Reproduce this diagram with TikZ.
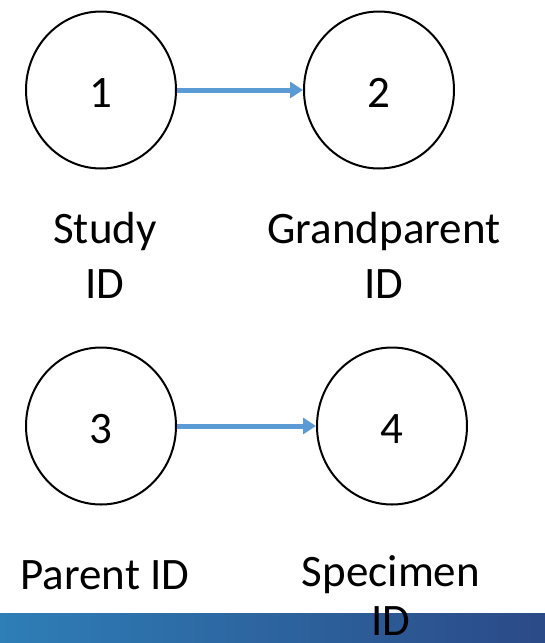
\documentclass[tikz,border=0pt]{standalone}
\usepackage{fontspec}
\setmainfont{Carlito}
\usetikzlibrary{positioning,arrows.meta,shapes.geometric}
\definecolor{linkblue}{RGB}{91,155,213}
\definecolor{barleft}{RGB}{46,126,183}
\definecolor{barright}{RGB}{43,74,135}
\tikzstyle{idnode}=[ellipse, draw=black, line width=2pt, minimum width=150pt, minimum height=157pt,
        inner sep=0pt, text height=35pt, text depth=0pt, font=\fontsize{45}{55}\selectfont]
\tikzstyle{idlabel}=[align=center, inner sep=0pt, font=\fontsize{45}{55}\selectfont]
\tikzstyle{link}=[draw=linkblue, line width=5pt, -{Triangle[length=13pt,width=16pt]}]
\begin{document}
\begin{tikzpicture}[x=1pt, y=-1pt, node distance=43pt]
\useasboundingbox (0,0) rectangle (545,643);
\clip (0,0) rectangle (545,643);
\shade[left color=barleft, right color=barright] (0,613) rectangle (545,643);

\node [idnode] (n1) at (101,90) {1};
\node [idnode] (n2) at (379,90) {2};
\node [idnode] (n3) at (101,426) {3};
\node [idnode] (n4) at (392,426) {4};

\node [idlabel, below=of n1, xshift=4pt] (l1) {Study\\ID};
\node [idlabel, below=of n2, xshift=5pt] (l2) {Grandparent\\ID};
\node [idlabel, below=55pt of n3, xshift=4pt] (l3) {Parent ID};
\node [idlabel, below=50pt of n4, xshift=-1pt,
       font=\fontsize{45}{49}\selectfont] (l4) {Specimen\\ID};

\draw [link] (n1) -- (n2);
\draw [link] (n3) -- (n4);
\end{tikzpicture}
\end{document}
